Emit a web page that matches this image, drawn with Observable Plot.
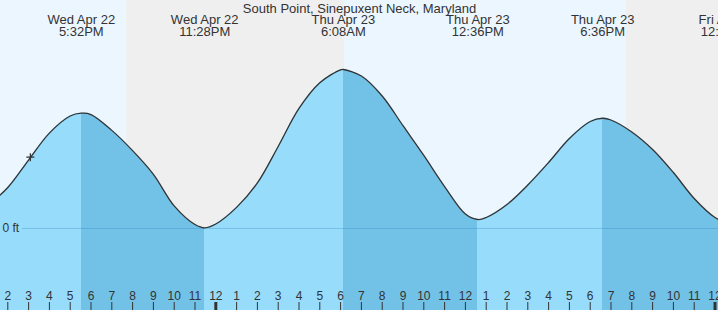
<!DOCTYPE html>
<html>
<head>
<meta charset="utf-8">
<script src="https://cdn.jsdelivr.net/npm/d3@7"></script>
<script src="https://cdn.jsdelivr.net/npm/@observablehq/plot@0.6"></script>
<style>
  html, body { margin: 0; padding: 0; background: #ffffff; overflow: hidden; }
</style>
</head>
<body>
<div id="chart"></div>
<script>
const chartTitle = "South Point, Sinepuxent Neck, Maryland";

// visible time window (UTC used as local clock time)
const xStart = "2026-04-22T13:38:56Z";
const xEnd = "2026-04-24T00:10:05Z";
const yDomain = [-0.932, 2.591]; // feet

// tide curve readings (time, height in ft)
const tideTimes = [
  "2026-04-22T13:00Z","2026-04-22T14:00Z","2026-04-22T15:00Z","2026-04-22T16:00Z","2026-04-22T17:00Z",
  "2026-04-22T17:32Z","2026-04-22T18:00Z","2026-04-22T19:00Z","2026-04-22T20:00Z","2026-04-22T21:00Z",
  "2026-04-22T22:00Z","2026-04-22T23:00Z","2026-04-22T23:28Z","2026-04-23T00:00Z","2026-04-23T01:00Z",
  "2026-04-23T02:00Z","2026-04-23T03:00Z","2026-04-23T04:00Z","2026-04-23T05:00Z","2026-04-23T06:00Z",
  "2026-04-23T06:08Z","2026-04-23T07:00Z","2026-04-23T08:00Z","2026-04-23T09:00Z","2026-04-23T10:00Z",
  "2026-04-23T11:00Z","2026-04-23T12:00Z","2026-04-23T12:36Z","2026-04-23T13:00Z","2026-04-23T14:00Z",
  "2026-04-23T15:00Z","2026-04-23T16:00Z","2026-04-23T17:00Z","2026-04-23T18:00Z","2026-04-23T18:36Z",
  "2026-04-23T19:00Z","2026-04-23T20:00Z","2026-04-23T21:00Z","2026-04-23T22:00Z","2026-04-23T23:00Z",
  "2026-04-24T00:00Z","2026-04-24T00:34Z","2026-04-24T01:00Z"
];
const tideHeights = [
  0.25, 0.466, 0.778, 1.084, 1.278,
  1.31, 1.295, 1.115, 0.885, 0.616,
  0.257, 0.045, 0.008, 0.051, 0.24,
  0.517, 0.932, 1.364, 1.656, 1.803,
  1.807, 1.733, 1.506, 1.168, 0.83,
  0.477, 0.165, 0.102, 0.125, 0.273,
  0.494, 0.75, 1.023, 1.216, 1.253,
  1.233, 1.097, 0.898, 0.636, 0.341,
  0.125, 0.07, 0.11
];

// high / low tide labels
const extremeTimes = [
  "2026-04-22T17:32Z","2026-04-22T23:28Z","2026-04-23T06:08Z",
  "2026-04-23T12:36Z","2026-04-23T18:36Z","2026-04-24T00:34Z"
];
const extremeLabels = [
  "Wed Apr 22\n5:32PM","Wed Apr 22\n11:28PM","Thu Apr 23\n6:08AM",
  "Thu Apr 23\n12:36PM","Thu Apr 23\n6:36PM","Fri Apr 24\n12:34AM"
];

// sunset / sunrise (day & night shading)
const dayStarts = ["2026-04-22T13:38:56Z", "2026-04-23T06:11Z"];
const dayEnds = ["2026-04-22T19:43Z", "2026-04-23T19:44Z"];
const nightStarts = ["2026-04-22T19:43Z", "2026-04-23T19:44Z"];
const nightEnds = ["2026-04-23T06:11Z", "2026-04-24T00:10:05Z"];

// current time marker
const nowTime = "2026-04-22T15:05Z";
const nowHeight = 0.81;

// hour axis
const tickTimes = d3.utcHour.range(new Date("2026-04-22T14:00Z"), new Date("2026-04-24T00:01Z"));
const tickLabels = ["2","3","4","5","6","7","8","9","10","11","12","1","2","3","4","5","6","7","8","9","10","11","12","1","2","3","4","5","6","7","8","9","10","11","12"];

const lightFill = "#97dcfb";
const darkFill = "#72c1e6";

const tide = tideTimes.map((t, i) => ({t: new Date(t), h: tideHeights[i]}));
const extremes = extremeTimes.map((t, i) => ({t: new Date(t), label: extremeLabels[i]}));
const dayBands = dayStarts.map((s, i) => ({start: new Date(s), end: new Date(dayEnds[i])}));
const nightBands = nightStarts.map((s, i) => ({start: new Date(s), end: new Date(nightEnds[i])}));
const ticks = tickTimes.map((t, i) => ({t, label: tickLabels[i], midnight: t.getUTCHours() === 0}));

const plot = Plot.plot({
  width: 718,
  height: 310,
  margin: 0,
  style: {fontFamily: "'Liberation Sans', Arial, sans-serif", background: "none", overflow: "hidden"},
  x: {type: "utc", domain: [new Date(xStart), new Date(xEnd)], axis: null},
  y: {domain: yDomain, axis: null},
  marks: [
    Plot.rect(dayBands, {x1: "start", x2: "end", fill: "#ecf6ff"}),
    Plot.rect(nightBands, {x1: "start", x2: "end", fill: "#efefef"}),
    Plot.areaY(tide, {x: "t", y1: yDomain[0], y2: "h", fill: "url(#tideFill)", curve: "catmull-rom"}),
    Plot.ruleY([0], {insetLeft: 22, stroke: "#2f86c0", strokeOpacity: 0.3}),
    Plot.line(tide, {x: "t", y: "h", stroke: "#333", strokeWidth: 1.3, curve: "catmull-rom"}),
    Plot.dot([{t: new Date(nowTime), h: nowHeight}], {x: "t", y: "h", symbol: "plus", r: 2.7, stroke: "#333", strokeWidth: 1.2}),
    Plot.text([0], {y: d => d, text: () => "0 ft", frameAnchor: "left", textAnchor: "start", dx: 2, fontSize: 12, fill: "#333"}),
    Plot.ruleX(ticks.filter(d => !d.midnight), {x: "t", insetTop: 302, stroke: "#333", strokeWidth: 1}),
    Plot.ruleX(ticks.filter(d => d.midnight), {x: "t", insetTop: 302, stroke: "#333", strokeWidth: 3}),
    Plot.text(ticks, {x: "t", text: "label", frameAnchor: "bottom", lineAnchor: "bottom", dy: -10.7, fontSize: 12, fill: "#333"}),
    Plot.text(extremes, {x: "t", text: "label", frameAnchor: "top", lineAnchor: "top", dy: 15, fontSize: 13, lineHeight: 12 / 13, fill: "#333"}),
    Plot.text([chartTitle], {text: d => d, frameAnchor: "top", lineAnchor: "top", dy: 3.5, fontSize: 13, fill: "#333"})
  ]
});

// two-tone fill: rising tide light, falling tide dark
const xs = plot.scale("x");
const ns = "http://www.w3.org/2000/svg";
const defs = document.createElementNS(ns, "defs");
const grad = document.createElementNS(ns, "linearGradient");
grad.setAttribute("id", "tideFill");
grad.setAttribute("gradientUnits", "userSpaceOnUse");
grad.setAttribute("x1", 0); grad.setAttribute("x2", 718);
grad.setAttribute("y1", 0); grad.setAttribute("y2", 0);
function addStop(offset, color) {
  const s = document.createElementNS(ns, "stop");
  s.setAttribute("offset", Math.max(0, Math.min(1, offset)));
  s.setAttribute("stop-color", color);
  grad.appendChild(s);
}
addStop(0, lightFill);
extremes.forEach((e, i) => {
  const off = xs.apply(e.t) / 718;
  const before = i % 2 === 0 ? lightFill : darkFill;
  const after = i % 2 === 0 ? darkFill : lightFill;
  addStop(off, before);
  addStop(off, after);
});
addStop(1, extremes.length % 2 === 0 ? lightFill : darkFill);
defs.appendChild(grad);
plot.insertBefore(defs, plot.firstChild);

document.getElementById("chart").appendChild(plot);
</script>
</body>
</html>
